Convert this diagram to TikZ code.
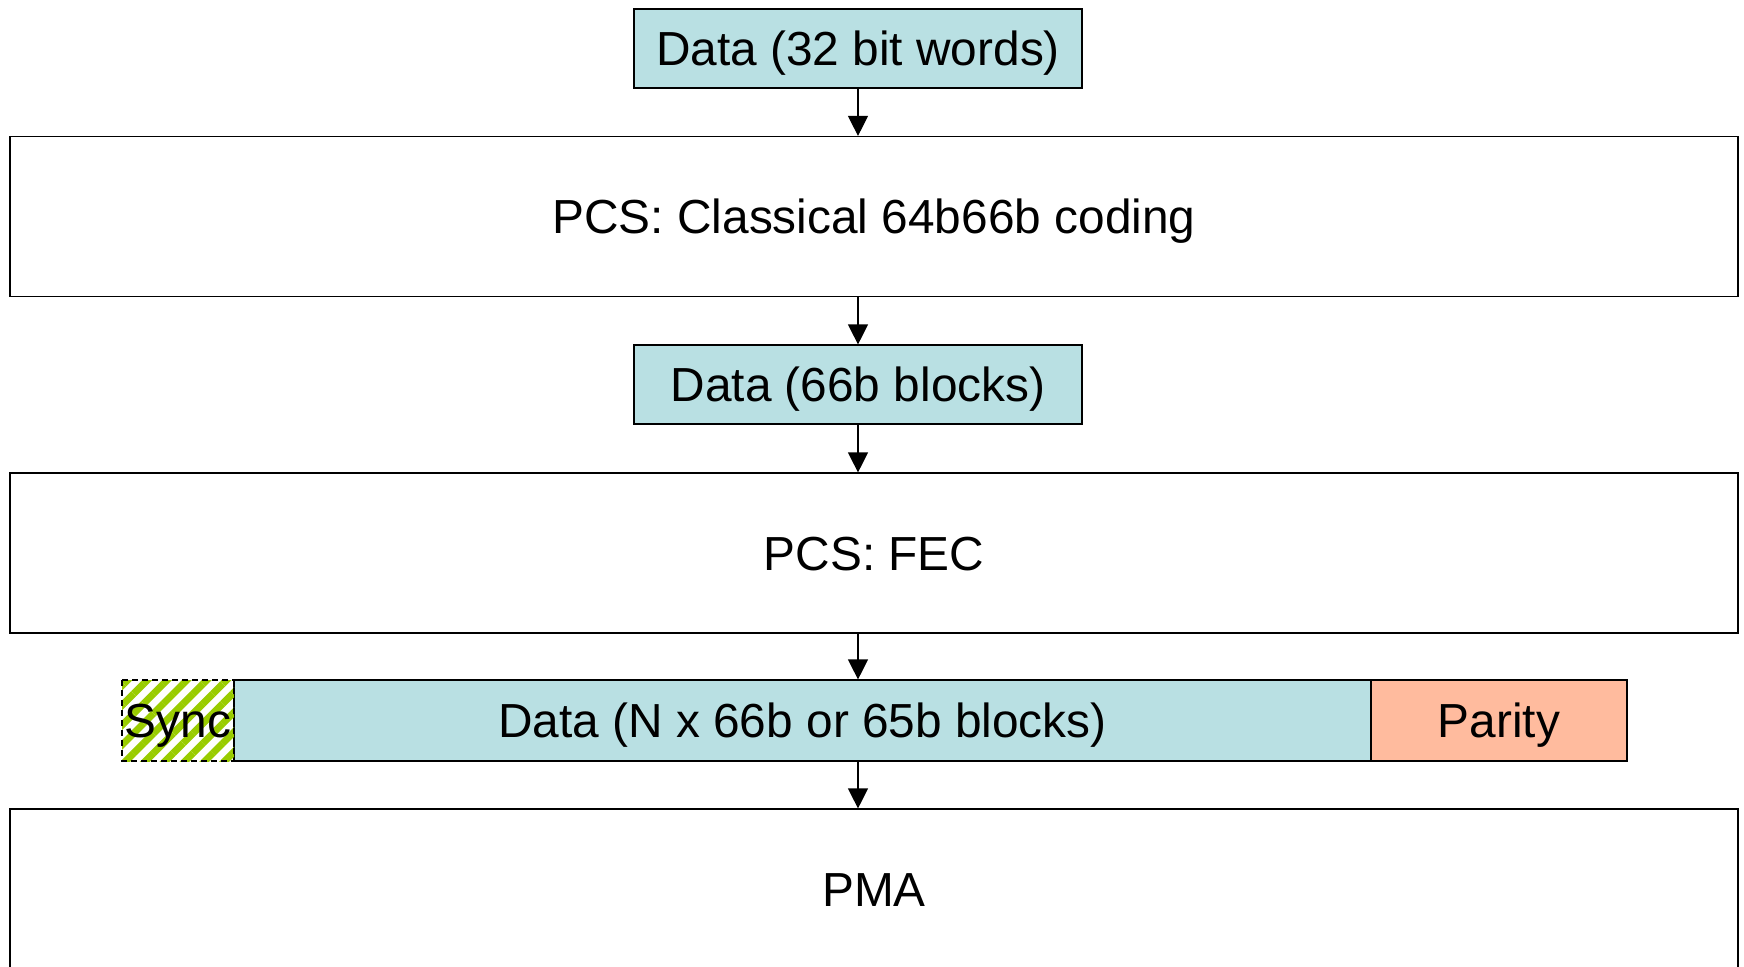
\documentclass[tikz,border=0pt]{standalone}
\usepackage{fontspec}
\setmainfont{Liberation Sans}
\usetikzlibrary{arrows.meta,patterns.meta}
\definecolor{datacyan}{RGB}{185,224,227}
\definecolor{paritysalmon}{RGB}{255,187,158}
\definecolor{syncgreen}{RGB}{153,204,0}
\begin{document}
\begin{tikzpicture}[x=0.5pt,y=-0.5pt,
	lbl/.style={font=\fontsize{23.9}{28}\selectfont,inner sep=0pt,text height=17.1pt,text depth=0pt},
	datablk/.style={lbl,draw,line width=0.6pt,fill=datacyan,minimum width=224pt,minimum height=39.5pt},
	layer/.style={lbl,draw,line width=0.6pt,fill=white,minimum width=864pt,minimum height=80pt},
	arr/.style={line width=0.6pt,-{Triangle[length=10pt,width=10pt]}}]
	\useasboundingbox (0,0) rectangle (1744,966);

	% blocks and layers, top to bottom
	\node[datablk] (words) at (858,48.5) {Data (32 bit words)};
	\node[layer] (pcs) at (874,216.5) {PCS: Classical 64b66b coding};
	\node[datablk] (blocks) at (858,384.5) {Data (66b blocks)};
	\node[layer] (fec) at (874,553) {PCS: FEC};
	\node[lbl,draw,line width=0.6pt,fill=datacyan,minimum width=568.5pt,minimum height=40.5pt] (fecdata) at (802.5,720.5) {Data (N x 66b or 65b blocks)};
	\node[lbl,draw,line width=0.6pt,fill=paritysalmon,minimum width=128pt,minimum height=40.5pt] (parity) at (1499,720.5) {Parity};
	\node[lbl,outer sep=0pt,pattern={Lines[angle=45,distance=7pt,line width=3.5pt]},pattern color=syncgreen,
		minimum width=56pt,minimum height=40.5pt] (sync) at (178,720.5) {Sync};
	\draw[line width=0.8pt,dash pattern=on 3pt off 2pt] (sync.north west) rectangle (sync.south east);
	\node[layer] (pma) at (874,889) {PMA};

	% connectors
	\draw[arr] (words.south) -- (pcs.north -| words.south);
	\draw[arr] (pcs.south -| blocks.north) -- (blocks.north);
	\draw[arr] (blocks.south) -- (fec.north -| blocks.south);
	\draw[arr] (fec.south -| blocks.south) -- (fecdata.north -| blocks.south);
	\draw[arr] (fecdata.south -| blocks.south) -- (pma.north -| blocks.south);
\end{tikzpicture}
\end{document}
